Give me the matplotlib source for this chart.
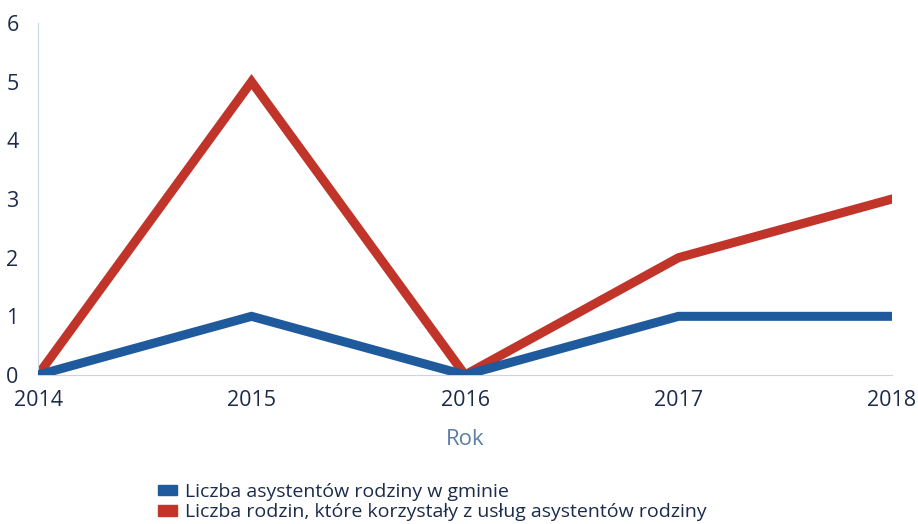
import matplotlib.pyplot as plt
from matplotlib.patches import Patch

years = [2014, 2015, 2016, 2017, 2018]
asystenci = [0, 1, 0, 1, 1]
rodziny = [0, 5, 0, 2, 3]

labels = [
    "Liczba asystentów rodziny w gminie",
    "Liczba rodzin, które korzystały z usług asystentów rodziny",
]
BLUE = "#1f5b9c"
RED = "#c0342a"
TEXT = "#1c2b4a"

plt.rcParams["font.family"] = ["Open Sans", "DejaVu Sans"]

fig = plt.figure(figsize=(9.18, 5.24), dpi=100)
ax = fig.add_axes([0.0414, 0.2844, 0.9303, 0.6716])

ax.plot(years, asystenci, color=BLUE, lw=6.5, solid_joinstyle="miter", zorder=3)
ax.plot(years, rodziny, color=RED, lw=6.5, solid_joinstyle="miter", zorder=2)

ax.set_xlim(2014, 2018)
ax.set_ylim(0, 6)
ax.set_xticks(years)
ax.set_yticks(range(0, 7))
ax.tick_params(length=0, labelsize=15.5, colors=TEXT)
ax.tick_params(axis="x", pad=11)
ax.tick_params(axis="y", pad=14)

for s in ["top", "right"]:
    ax.spines[s].set_visible(False)
ax.spines["left"].set_color("#c8d3e6")
ax.spines["bottom"].set_color("#c8d3e6")
ax.spines["left"].set_linewidth(0.8)
ax.spines["bottom"].set_linewidth(0.8)

ax.set_xlabel("Rok", fontsize=16, color="#5b7fa6", labelpad=13)

handles = [Patch(color=BLUE), Patch(color=RED)]
fig.legend(handles, labels, loc="upper left", bbox_to_anchor=(0.172, 0.078),
           frameon=False, fontsize=14, handlelength=1.0, handleheight=0.45,
           handletextpad=0.4, labelspacing=0.12, labelcolor=TEXT,
           borderaxespad=0, borderpad=0)

fig.savefig("out.png", dpi=100)
